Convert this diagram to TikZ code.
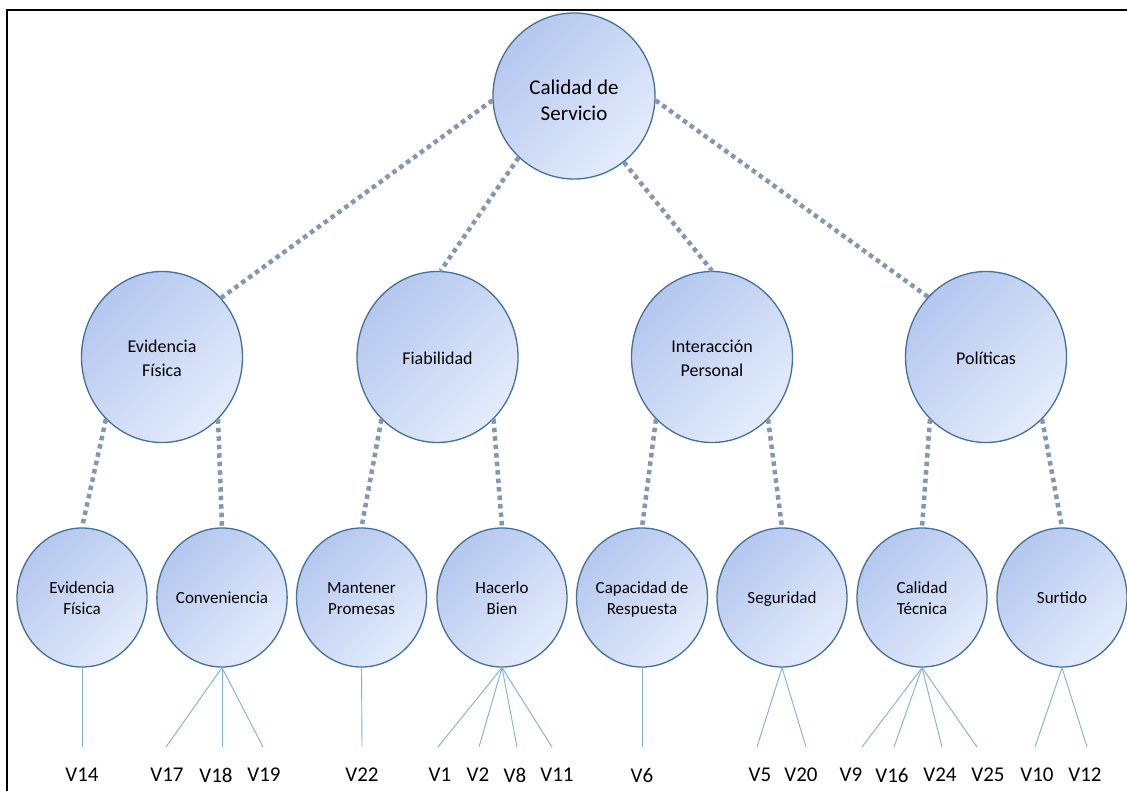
\documentclass[tikz,border=0pt]{standalone}
\usepackage{fontspec}
\setmainfont{Carlito}
\usetikzlibrary{shapes.geometric}
\definecolor{cdark}{RGB}{180,199,239}
\definecolor{clight}{RGB}{228,236,251}
\definecolor{cedge}{RGB}{65,113,156}
\definecolor{cdot}{RGB}{132,151,176}
\definecolor{cthin}{RGB}{125,175,228}
\newcommand\myhs[1]{\rule{0pt}{#1}}
\newcommand\myds[1]{\rule[-#1]{0pt}{#1}}
\newcommand\tT[1]{\myhs{30.5pt}#1\myds{8pt}}
\newcommand\tM[1]{\myhs{20.7pt}#1\myds{6pt}}
\newcommand\tB[1]{\myhs{17pt}#1\myds{5pt}}
\tikzset{
  bubble/.style={ellipse, draw=cedge, line width=1.3pt, inner sep=0pt, align=center,
    top color=cdark, bottom color=clight, shading angle=45},
  topbub/.style={bubble, minimum width=162pt, minimum height=166pt, font=\fontsize{21}{26.5}\selectfont},
  midbub/.style={bubble, minimum width=161pt, minimum height=171pt, font=\fontsize{18}{23.3}\selectfont},
  botbub/.style={bubble, minimum width=130pt, minimum height=139pt, font=\fontsize{17}{21}\selectfont},
  dotline/.style={draw=cdot, line width=4.5pt, dash pattern=on 4.5pt off 4pt},
  thinline/.style={draw=cthin, line width=0.9pt},
  leaf/.style={font=\fontsize{21}{24}\selectfont, inner sep=0pt}
}
\begin{document}
\begin{tikzpicture}[x=1pt,y=-1pt]
\useasboundingbox (0,0) rectangle (1127,790);
\fill[white] (0,0) rectangle (1127,790);
\draw[black, line width=2pt] (7,791) -- (7,10) -- (1128,10);

% top
\node[topbub] (top) at (574,96) {\tT{Calidad de\\Servicio}};
% middle
\node[midbub] (mEF) at (162,357) {\tM{Evidencia\\Física}};
\node[midbub] (mFi) at (437.5,357) {\tM{Fiabilidad}};
\node[midbub] (mIP) at (712,357) {\tM{Interacción\\Personal}};
\node[midbub] (mPo) at (986,357) {\tM{Políticas}};
% bottom
\node[botbub] (bEF) at (82,597.5) {\tB{Evidencia\\Física}};
\node[botbub] (bCo) at (222,597.5) {\tB{Conveniencia}};
\node[botbub] (bMP) at (361.5,597.5) {\tB{Mantener\\Promesas}};
\node[botbub] (bHB) at (502,597.5) {\tB{Hacerlo\\Bien}};
\node[botbub] (bCR) at (642,597.5) {\tB{Capacidad de\\Respuesta}};
\node[botbub] (bSe) at (782,597.5) {\tB{Seguridad}};
\node[botbub] (bCT) at (922,597.5) {\tB{Calidad\\Técnica}};
\node[botbub] (bSu) at (1062,597.5) {\tB{Surtido}};

% dotted connectors
\draw[dotline] (top.183) -- (mEF.45);
\draw[dotline] (top.228) -- (mFi.88);
\draw[dotline] (top.307) -- (mIP.north);
\draw[dotline] (top.357) -- (mPo.134);
\draw[dotline] (mEF.228) -- (bEF.north);
\draw[dotline] (mEF.312) -- (bCo.north);
\draw[dotline] (mFi.228) -- (bMP.north);
\draw[dotline] (mFi.312) -- (bHB.north);
\draw[dotline] (mIP.228) -- (bCR.north);
\draw[dotline] (mIP.312) -- (bSe.north);
\draw[dotline] (mPo.228) -- (bCT.north);
\draw[dotline] (mPo.312) -- (bSu.north);

% leaves
\foreach \nm/\src/\ex/\lx in {
  14/bEF/82/82,
  17/bCo/166/167, 18/bCo/222/216, 19/bCo/263/264,
  22/bMP/362/362,
  1/bHB/438/440, 2/bHB/479/478, 8/bHB/517/515, 11/bHB/552/557,
  6/bCR/642/642,
  5/bSe/757/760, 20/bSe/806/801,
  9/bCT/862/851, 16/bCT/894/892, 24/bCT/942/940, 25/bCT/977/988,
  10/bSu/1035/1037, 12/bSu/1087/1085}{
  \coordinate (e\nm) at (\ex,747);
  \node[leaf] (v\nm) at (\lx,775) {V\nm};
  \draw[thinline] (\src.south) -- (e\nm);
}
\end{tikzpicture}
\end{document}
